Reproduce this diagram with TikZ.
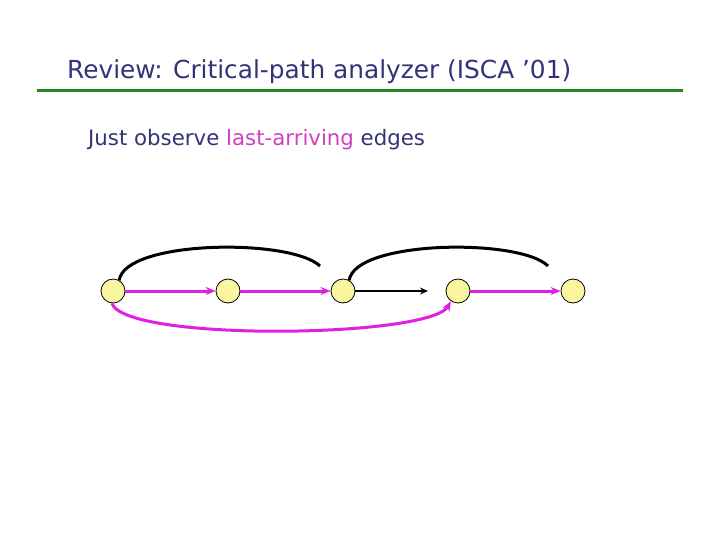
\documentclass[tikz,border=0pt]{standalone}
\usepackage{fontspec}
\setmainfont{DejaVu Sans}
\usetikzlibrary{arrows.meta}
\definecolor{navy}{HTML}{333377}
\definecolor{mag}{HTML}{E020E0}
\definecolor{pinktxt}{HTML}{D040C0}
\definecolor{lgreen}{HTML}{238A23}
\definecolor{nodefill}{HTML}{FAF6A0}
\tikzset{
  vtx/.style={circle,draw=black,fill=nodefill,minimum size=24pt,inner sep=0pt,line width=0.8pt},
  magarrow/.style={draw=mag,line width=3pt,-{Stealth[length=10pt,width=8pt]}},
  blkarrow/.style={draw=black,line width=2pt,-{Stealth[length=8pt,width=7pt]}},
  blkarc/.style={draw=black,line width=3pt},
}
\begin{document}
\begin{tikzpicture}[x=1pt,y=1pt]
\useasboundingbox (0,0) rectangle (720,-540);
\node[anchor=base west,text=navy,font=\fontsize{24.8}{28}\selectfont,inner sep=0pt] (title) at (67,-79) {Review: Critical-path analyzer (ISCA ’01)};
\draw[lgreen,line width=3pt] (37,-91) -- (683,-91);
\node[anchor=base west,text=navy,font=\fontsize{21.3}{24}\selectfont,inner sep=0pt] (sub) at (88,-146) {Just observe \textcolor{pinktxt}{last-arriving} edges};
\node[vtx] (n1) at (113,-291) {};
\node[vtx] (n2) at (228,-291) {};
\node[vtx] (n3) at (343,-291) {};
\node[vtx] (n4) at (458,-291) {};
\node[vtx] (n5) at (573,-291) {};
\coordinate (e1) at (320,-266);
\coordinate (e2) at (548,-266);
\coordinate (e3) at (428,-291);
\draw[magarrow] (n1) -- (n2);
\draw[magarrow] (n2) -- (n3);
\draw[magarrow] (n4) -- (n5);
\draw[blkarrow] (n3) -- (e3);
\draw[blkarc] (n1.60) .. controls (125,-240) and (290,-238) .. (e1);
\draw[blkarc] (n3.60) .. controls (355,-240) and (520,-238) .. (e2);
\draw[magarrow] (n1.-95) .. controls (125,-342) and (430,-338) .. (n4.-125);
\end{tikzpicture}
\end{document}
